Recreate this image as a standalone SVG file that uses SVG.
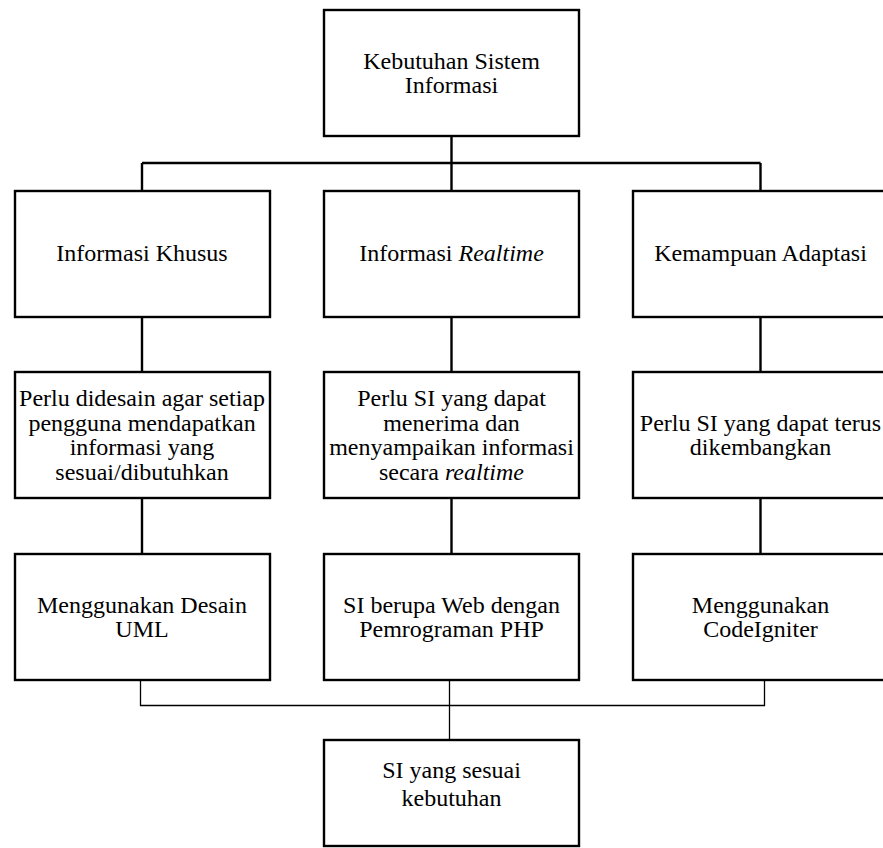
<svg xmlns="http://www.w3.org/2000/svg" width="883" height="848" viewBox="0 0 883 848">
<style>
.box{fill:#fff;stroke:#000;stroke-width:2.4}
.thick{fill:none;stroke:#000;stroke-width:2.4}
.thin{fill:none;stroke:#000;stroke-width:1.3}
text{font-family:"Liberation Serif","Times New Roman",serif;font-size:24px;fill:#000;text-anchor:middle}
.it{font-style:italic}
</style>
<rect width="883" height="848" fill="#fff"/>
<g id="connectors">
<path class="thick" d="M451.5 136V163M142 163H760.5M142 163V191M451.5 163V191M760.5 163V191"/>
<path class="thick" d="M142 317V372M451.5 317V372M760.5 317V372"/>
<path class="thick" d="M142 498V554M451.5 498V554M760.5 498V554"/>
<path class="thin" d="M140.5 680V705.5H764.5V680M449.5 680V740"/>
</g>
<g id="n-kebutuhan">
<rect class="box" x="324" y="10" width="255" height="126"/>
<text x="451.5" y="68.5">Kebutuhan Sistem</text>
<text x="451.5" y="92.8">Informasi</text>
</g>
<g id="n-khusus">
<rect class="box" x="15" y="191" width="255" height="126"/>
<text x="142" y="261">Informasi Khusus</text>
</g>
<g id="n-realtime">
<rect class="box" x="324" y="191" width="255" height="126"/>
<text x="451.5" y="261">Informasi <tspan class="it">Realtime</tspan></text>
</g>
<g id="n-adaptasi">
<rect class="box" x="633" y="191" width="256" height="126"/>
<text x="760.5" y="261">Kemampuan Adaptasi</text>
</g>
<g id="n-didesain">
<rect class="box" x="15" y="372" width="255" height="126"/>
<text x="142" y="406">Perlu didesain agar setiap</text>
<text x="142" y="430.5">pengguna mendapatkan</text>
<text x="142" y="455">informasi yang</text>
<text x="142" y="479.5">sesuai/dibutuhkan</text>
</g>
<g id="n-menerima">
<rect class="box" x="324" y="372" width="255" height="126"/>
<text x="451.5" y="406">Perlu SI yang dapat</text>
<text x="451.5" y="430.5">menerima dan</text>
<text x="451.5" y="455">menyampaikan informasi</text>
<text x="451.5" y="479.5">secara <tspan class="it">realtime</tspan></text>
</g>
<g id="n-dikembangkan">
<rect class="box" x="633" y="372" width="256" height="126"/>
<text x="760.5" y="430.5">Perlu SI yang dapat terus</text>
<text x="760.5" y="454.5">dikembangkan</text>
</g>
<g id="n-uml">
<rect class="box" x="15" y="554" width="255" height="126"/>
<text x="142" y="612.5">Menggunakan Desain</text>
<text x="142" y="636.8">UML</text>
</g>
<g id="n-php">
<rect class="box" x="324" y="554" width="255" height="126"/>
<text x="451.5" y="612.5">SI berupa Web dengan</text>
<text x="451.5" y="636.8">Pemrograman PHP</text>
</g>
<g id="n-codeigniter">
<rect class="box" x="633" y="554" width="256" height="126"/>
<text x="760.5" y="612.5">Menggunakan</text>
<text x="760.5" y="636.8">CodeIgniter</text>
</g>
<g id="n-sesuai">
<rect class="box" x="324" y="740" width="255" height="106"/>
<text x="451.5" y="777.5">SI yang sesuai</text>
<text x="451.5" y="806">kebutuhan</text>
</g>
</svg>
